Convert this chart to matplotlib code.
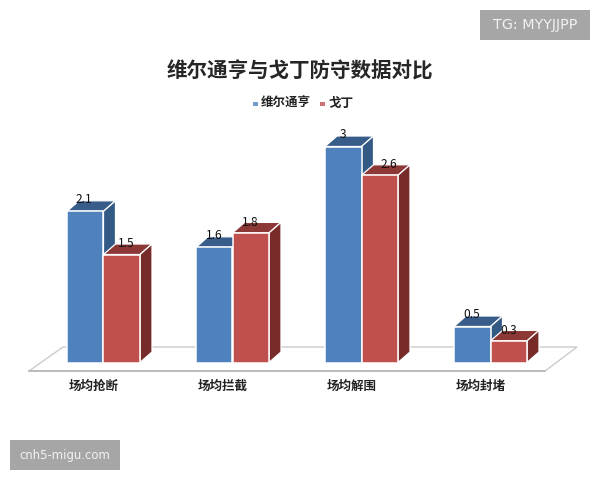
import matplotlib
matplotlib.use('Agg')
import matplotlib.pyplot as plt
from matplotlib.patches import Polygon, Rectangle

plt.rcParams['font.family'] = ['Noto Sans CJK SC', 'DejaVu Sans']

# Data
categories = ['场均抢断', '场均拦截', '场均解围', '场均封堵']
vertonghen = [2.1, 1.6, 3, 0.5]
godin = [1.5, 1.8, 2.6, 0.3]
title = '维尔通亨与戈丁防守数据对比'
series_names = ['维尔通亨', '戈丁']

# Colours: front, top, side
BLUE = ('#4f81bd', '#385d8a', '#335a85')
RED = ('#c0504d', '#8c3836', '#772c2a')

# Layout in pixels of the 600x480 picture
W, H = 600, 480
X0, GROUP_STEP = 103.5, 129.0   # boundary between the two bars of group 0, group spacing
Y0, UNIT = 362.5, 72.0          # baseline and pixels per unit of value
BAR_W = 36.5
DEPTH_X, DEPTH_Y = 12.0, 10.5


def px(x, y):
    # picture pixels to data coordinates
    return (x - X0) / GROUP_STEP, (Y0 - y) / UNIT


fig = plt.figure(figsize=(6, 4.8), dpi=100, facecolor='white')
ax = fig.add_axes([0, 0, 1, 1])
ax.set_xlim(px(0, 0)[0], px(W, 0)[0])
ax.set_ylim(px(0, H)[1], px(0, 0)[1])
ax.axis('off')

# Floor of the 3D chart
floor = [px(29, 371), px(545, 371), px(577, 347), px(63, 347)]
ax.add_patch(Polygon(floor, closed=True, facecolor='white', edgecolor='#cccccc', lw=1.0, zorder=1))
ax.plot([floor[0][0], floor[1][0]], [floor[0][1], floor[1][1]], color='#bdbdbd', lw=1.4, zorder=1.5)

bar_w = BAR_W / GROUP_STEP
dx = DEPTH_X / GROUP_STEP
dy = DEPTH_Y / UNIT


def draw_series(values, offset, colors, z):
    xs = [i + offset for i in range(len(values))]
    ax.bar(xs, values, width=bar_w, align='edge', color=colors[0], edgecolor='white', lw=1.1, zorder=z + 0.2)
    for x, v in zip(xs, values):
        top = [(x, v), (x + bar_w, v), (x + bar_w + dx, v + dy), (x + dx, v + dy)]
        side = [(x + bar_w, 0), (x + bar_w + dx, dy), (x + bar_w + dx, v + dy), (x + bar_w, v)]
        ax.add_patch(Polygon(top, closed=True, facecolor=colors[1], edgecolor='white', lw=0.9, zorder=z))
        ax.add_patch(Polygon(side, closed=True, facecolor=colors[2], edgecolor='white', lw=0.9, zorder=z))


draw_series(vertonghen, -bar_w, BLUE, 2)
draw_series(godin, 0, RED, 3)

# Value labels sit on the top faces, a few are pushed to the right
nudge_blue = [-1, 0, 0, 0]
nudge_red = [5, 0, 9, 0]
for i in range(len(categories)):
    ax.annotate(str(vertonghen[i]), (i - bar_w / 2, vertonghen[i]), xytext=(nudge_blue[i] * 0.72, 8.4),
                textcoords='offset points', ha='center', va='center', fontsize=8.6, color='#111111', zorder=5)
    ax.annotate(str(godin[i]), (i + bar_w / 2, godin[i]), xytext=(nudge_red[i] * 0.72, 7.8),
                textcoords='offset points', ha='center', va='center', fontsize=8.6, color='#111111', zorder=5)

# Category labels
for i, name in enumerate(categories):
    ax.text(i - 0.08, px(0, 386)[1], name, ha='center', va='center', fontsize=9,
            fontweight='bold', color='#222222')

# Title and legend
ax.text(px(300, 0)[0], px(0, 71)[1], title, ha='center', va='center', fontsize=14.8,
        fontweight='bold', color='#262626')
for sx, tx, name, c in [(255, 261, series_names[0], BLUE), (322, 328, series_names[1], RED)]:
    ax.add_patch(Rectangle(px(sx - 2, 106), 4.5 / GROUP_STEP, 4.5 / UNIT, facecolor=c[0], alpha=0.8, lw=0))
    ax.text(px(tx, 0)[0], px(0, 103)[1], name, ha='left', va='center', fontsize=9,
            fontweight='bold', color='#222222')

# Watermarks
for (x, y, w, h, txt, size) in [(480, 10, 110, 30, 'TG: MYYJJPP', 10.4), (10, 440, 110, 30, 'cnh5-migu.com', 8.4)]:
    ax.add_patch(Rectangle(px(x, y + h), w / GROUP_STEP, h / UNIT, facecolor='#a6a6a6', lw=0, zorder=6))
    ax.text(px(x + w / 2, 0)[0], px(0, y + h / 2)[1], txt, ha='center', va='center', fontsize=size,
            color='#f2f2f2', family='DejaVu Sans', zorder=7)

fig.savefig('out.png', dpi=100)
